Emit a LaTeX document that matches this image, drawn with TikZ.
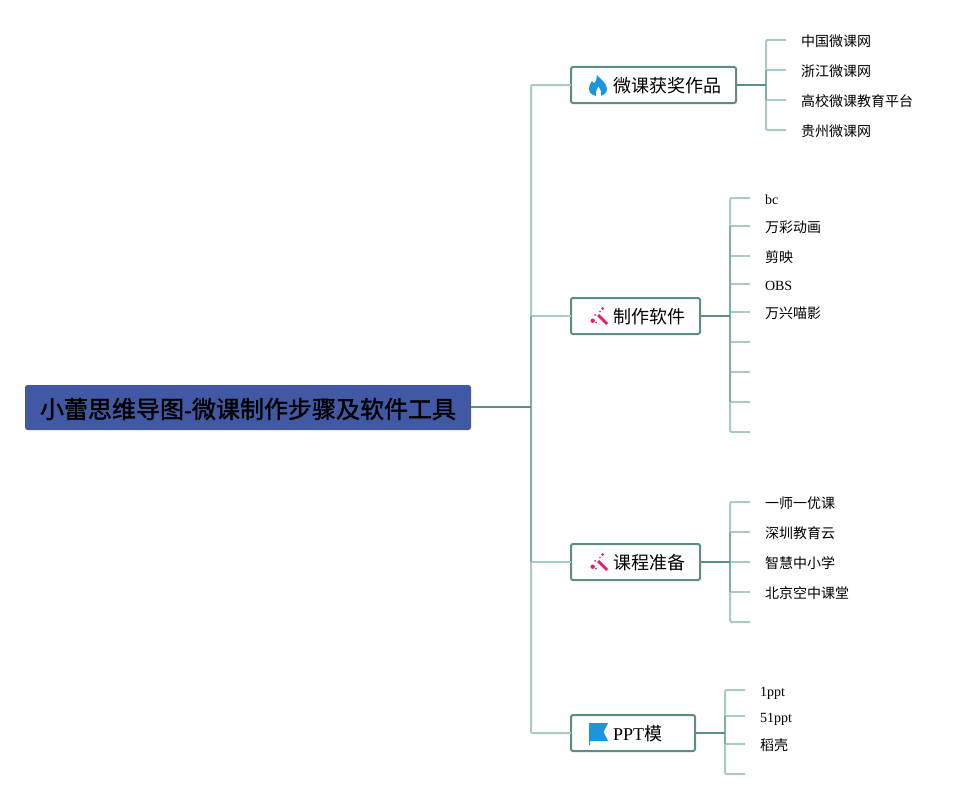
\documentclass[tikz,border=0pt]{standalone}
\usepackage{fontspec}
\setmainfont{Liberation Serif}
\newfontfamily\cjk{Noto Sans CJK SC}
\newfontfamily\cjkroot[FakeBold=1.6]{Noto Sans CJK SC}
\definecolor{rootfill}{RGB}{65,88,165}
\definecolor{darkline}{RGB}{91,143,132}
\definecolor{midline}{RGB}{128,176,163}
\definecolor{lightline}{RGB}{170,203,192}
\definecolor{flameblue}{RGB}{27,150,222}
\definecolor{wandred}{RGB}{233,30,99}
\newcommand{\branchtext}[1]{\hspace{31.5pt}\raisebox{0pt}[11.7pt][0pt]{#1}}
\tikzset{every picture/.style={line width=0.75pt}}
\tikzset{
  rootbox/.style={fill=rootfill,rounded corners=2pt,inner sep=0pt,outer sep=0pt,minimum height=33.75pt,font=\fontsize{18}{18}\selectfont,text=black},
  branchbox/.style={draw=darkline,fill=white,line width=1.5pt,rounded corners=1.5pt,inner sep=0pt,outer sep=0pt,minimum height=27pt,font=\fontsize{13.5}{14}\selectfont,anchor=west,align=left},
  leafbox/.style={anchor=west,inner ysep=0pt,inner xsep=0pt,font=\fontsize{10.5}{12}\selectfont},
  trunk/.style={draw=darkline,line width=1.5pt},
  stem/.style={draw=midline,line width=1.5pt},
  twig/.style={draw=lightline,line width=1.5pt},
  wandicon/.pic={
    \fill[wandred] (-1,0) -- (1,-2) -- (10,7) -- (8,9) -- cycle ;
    \fill[wandred] (-5.3,4.7) circle (2.2) ;
    \fill[wandred] (-3,-1) circle (1) ;
    \fill[wandred] (-2,6.5) circle (1) ;
    \fill[wandred] (4.7,-7.5) circle (1.5) ;
    \fill[wandred] (2,-4.5) circle (0.8) ;
  }
}
\begin{document}
\begin{tikzpicture}[x=0.75pt,y=0.75pt,yscale=-1,xscale=1]
  \useasboundingbox (0,0) rectangle (973,799);

  % Root
  \node [rootbox,minimum width=334.5pt] (root) at (248,407.5) {\raisebox{0pt}[15.9pt][0pt]{\cjkroot 小蕾思维导图{\rmfamily\bfseries -}微课制作步骤及软件工具}};

  % Branches
  \node [branchbox,minimum width=123.75pt,text width=123.75pt] (works) at (571,85) {\branchtext{\cjk 微课获奖作品}};
  \node [branchbox,minimum width=96.75pt,text width=96.75pt] (tools) at (571,316) {\branchtext{\cjk 制作软件}};
  \node [branchbox,minimum width=96.75pt,text width=96.75pt] (prep) at (571,562) {\branchtext{\cjk 课程准备}};
  \node [branchbox,minimum width=93pt,text width=93pt] (ppt) at (571,733) {\branchtext{PPT{\cjk 模}}};

  % Spines
  \coordinate (hub) at (531,407);
  \coordinate (worksfork) at (766,85);
  \coordinate (toolsfork) at (730,316);
  \coordinate (prepfork) at (730,562);
  \coordinate (pptfork) at (725,733);

  % Leaves, works
  \node [leafbox] (a1) at (800.5,41.5) {\cjk 中国微课网};
  \node [leafbox] (a2) at (800.5,71.5) {\cjk 浙江微课网};
  \node [leafbox] (a3) at (800.5,101.5) {\cjk 高校微课教育平台};
  \node [leafbox] (a4) at (800.5,131.5) {\cjk 贵州微课网};
  \coordinate (a1end) at (786,40);
  \coordinate (a2end) at (786,70);
  \coordinate (a3end) at (786,100);
  \coordinate (a4end) at (786,130);

  % Leaves, tools
  \node [leafbox] (b1) at (764.5,200) {bc};
  \node [leafbox] (b2) at (764.5,227.5) {\cjk 万彩动画};
  \node [leafbox] (b3) at (764.5,257.5) {\cjk 剪映};
  \node [leafbox] (b4) at (764.5,286) {OBS};
  \node [leafbox] (b5) at (764.5,313.5) {\cjk 万兴喵影};
  \coordinate (b1end) at (750,198);
  \coordinate (b2end) at (750,226);
  \coordinate (b3end) at (750,256);
  \coordinate (b4end) at (750,284);
  \coordinate (b5end) at (750,312);
  \coordinate (b6end) at (750,342);
  \coordinate (b7end) at (750,372);
  \coordinate (b8end) at (750,402);
  \coordinate (b9end) at (750,432);

  % Leaves, prep
  \node [leafbox] (c1) at (764.5,503.5) {\cjk 一师一优课};
  \node [leafbox] (c2) at (764.5,533.5) {\cjk 深圳教育云};
  \node [leafbox] (c3) at (764.5,563.5) {\cjk 智慧中小学};
  \node [leafbox] (c4) at (764.5,593.5) {\cjk 北京空中课堂};
  \coordinate (c1end) at (750,502);
  \coordinate (c2end) at (750,532);
  \coordinate (c3end) at (750,562);
  \coordinate (c4end) at (750,592);
  \coordinate (c5end) at (750,622);

  % Leaves, ppt
  \node [leafbox] (d1) at (759.5,693) {1ppt};
  \node [leafbox] (d2) at (759.5,719) {51ppt};
  \node [leafbox] (d3) at (759.5,745.5) {\cjk 稻壳};
  \coordinate (d1end) at (745,690);
  \coordinate (d2end) at (745,716);
  \coordinate (d3end) at (745,744);
  \coordinate (d4end) at (745,774);

  % Light connectors
  \draw [twig,rounded corners=1pt] (works.west) -| (hub) ;
  \draw [twig,rounded corners=1pt] (ppt.west) -| (hub) ;
  \draw [twig] (tools.west) -- (tools.west -| hub) ;
  \draw [twig] (prep.west) -- (prep.west -| hub) ;
  \draw [twig,rounded corners=1pt] (a1end) -| (worksfork) ;
  \draw [twig,rounded corners=1pt] (a4end) -| (worksfork) ;
  \draw [twig] (a2end) -- (a2end -| worksfork) ;
  \draw [twig] (a3end) -- (a3end -| worksfork) ;
  \draw [twig,rounded corners=1pt] (b1end) -| (toolsfork) ;
  \draw [twig,rounded corners=1pt] (b9end) -| (toolsfork) ;
  \draw [twig] (b2end) -- (b2end -| toolsfork) ;
  \draw [twig] (b3end) -- (b3end -| toolsfork) ;
  \draw [twig] (b4end) -- (b4end -| toolsfork) ;
  \draw [twig] (b5end) -- (b5end -| toolsfork) ;
  \draw [twig] (b6end) -- (b6end -| toolsfork) ;
  \draw [twig] (b7end) -- (b7end -| toolsfork) ;
  \draw [twig] (b8end) -- (b8end -| toolsfork) ;
  \draw [twig,rounded corners=1pt] (c1end) -| (prepfork) ;
  \draw [twig,rounded corners=1pt] (c5end) -| (prepfork) ;
  \draw [twig] (c2end) -- (c2end -| prepfork) ;
  \draw [twig] (c3end) -- (c3end -| prepfork) ;
  \draw [twig] (c4end) -- (c4end -| prepfork) ;
  \draw [twig,rounded corners=1pt] (d1end) -| (pptfork) ;
  \draw [twig,rounded corners=1pt] (d4end) -| (pptfork) ;
  \draw [twig] (d2end) -- (d2end -| pptfork) ;
  \draw [twig] (d3end) -- (d3end -| pptfork) ;

  % Spine parts nearest the forks
  \draw [stem] (tools.west -| hub) -- (prep.west -| hub) ;
  \draw [stem] (a2end -| worksfork) -- (a3end -| worksfork) ;
  \draw [stem] (b2end -| toolsfork) -- (b8end -| toolsfork) ;
  \draw [stem] (c2end -| prepfork) -- (c4end -| prepfork) ;
  \draw [stem] (d2end -| pptfork) -- (d3end -| pptfork) ;

  % Dark connectors
  \draw [trunk] (root.east |- hub) -- (hub) ;
  \draw [trunk] (works.east) -- (worksfork) ;
  \draw [trunk] (tools.east) -- (toolsfork) ;
  \draw [trunk] (prep.east) -- (prepfork) ;
  \draw [trunk] (ppt.east) -- (pptfork) ;

  % Icons
  \fill [flameblue] (597,75) .. controls (600,79) and (607,83) .. (607,89) .. controls (607,93) and (604,95) .. (601,96) .. controls (602,92) and (600,89) .. (598.5,86) .. controls (597,89) and (595,92) .. (596,96) .. controls (591.5,95) and (589,92) .. (589,89) .. controls (589,85) and (591,83) .. (592,81) .. controls (593,83) and (594,83) .. (594.5,83) .. controls (596,81) and (597,78) .. (597,75) -- cycle ;
  \pic [yscale=-1] at (598,316) {wandicon};
  \pic [yscale=-1] at (598,562) {wandicon};
  \fill [flameblue] (589,723) -- (608,723) -- (603.5,732) -- (608,741) -- (590,741) -- (590,745) -- (589,745) -- cycle ;
\end{tikzpicture}
\end{document}
